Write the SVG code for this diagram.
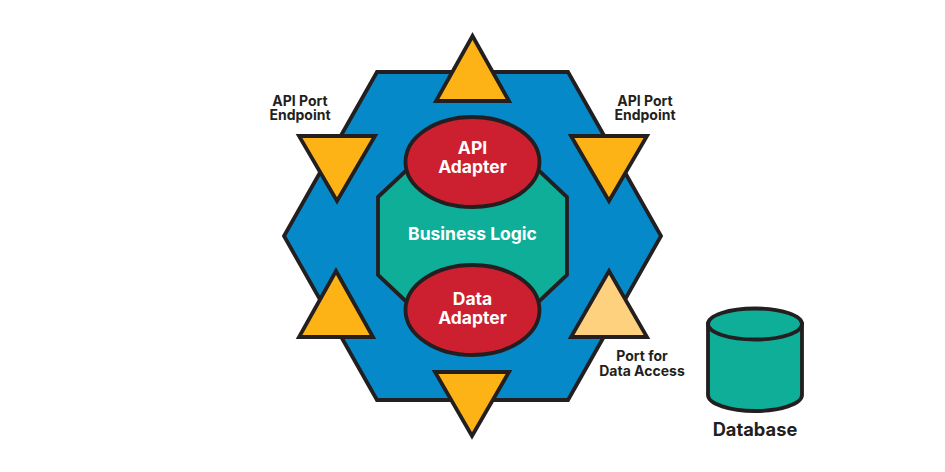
<svg xmlns="http://www.w3.org/2000/svg" width="945" height="472" viewBox="0 0 945 472">
<style>
.s{stroke:#231f20;stroke-width:3.800;stroke-linejoin:miter}
.hex{fill:#0689c9}
.teal{fill:#0fae98}
.red{fill:#cc1f2f}
.port{fill:#fdb216}
.data{fill:#fed17e}
text{font-family:"Inter","Liberation Sans",sans-serif;font-weight:700;text-anchor:middle}
.w{fill:#fff;font-size:17.500px}
.k{fill:#231f20;font-size:14px}
.d{fill:#231f20;font-size:18.300px}
</style>
<rect width="945" height="472" fill="#fff"/>
<g id="hexagon"><polygon class="s hex" points="377,72 568,72 661,236 568,400 377,400 284,236"/></g>
<g id="business-logic"><polygon class="s teal" points="378,197 412,165 533,165 567,197 567,275 533,307 412,307 378,275"/><text class="w" x="472.500" y="240">Business Logic</text></g>
<g id="api-adapter"><ellipse class="s red" cx="472.500" cy="162" rx="67" ry="45"/><text class="w" x="472.500" y="154">API</text><text class="w" x="472.500" y="172.500">Adapter</text></g>
<g id="data-adapter"><ellipse class="s red" cx="472.500" cy="310" rx="67" ry="45"/><text class="w" x="472.500" y="305">Data</text><text class="w" x="472.500" y="323.500">Adapter</text></g>
<g id="port-top"><polygon class="s port" points="472.500,36 436,101 509,101"/></g>
<g id="port-upper-left"><polygon class="s port" points="299,136 375,136 337,201"/></g>
<g id="port-upper-right"><polygon class="s port" points="571,136 647,136 609,201"/></g>
<g id="port-lower-left"><polygon class="s port" points="336,271 299,337 373,337"/></g>
<g id="port-data-access"><polygon class="s data" points="609,271 571,337 647,337"/></g>
<g id="port-bottom"><polygon class="s port" points="435,372 509,372 472,436"/></g>
<g id="label-left"><text class="k" x="300" y="105.500">API Port</text><text class="k" x="300" y="120">Endpoint</text></g>
<g id="label-right"><text class="k" x="645" y="105.500">API Port</text><text class="k" x="645" y="120">Endpoint</text></g>
<g id="label-data"><text class="k" x="642" y="361">Port for</text><text class="k" x="642" y="376">Data Access</text></g>
<g id="database"><path class="s teal" d="M708,324 V395 C708,404 730,411 755,411 C780,411 802,404 802,395 V324 Z"/><ellipse class="s teal" cx="755" cy="324" rx="47" ry="15.500"/><text class="d" x="755" y="436">Database</text></g>
<g id="connectors"></g>
</svg>
